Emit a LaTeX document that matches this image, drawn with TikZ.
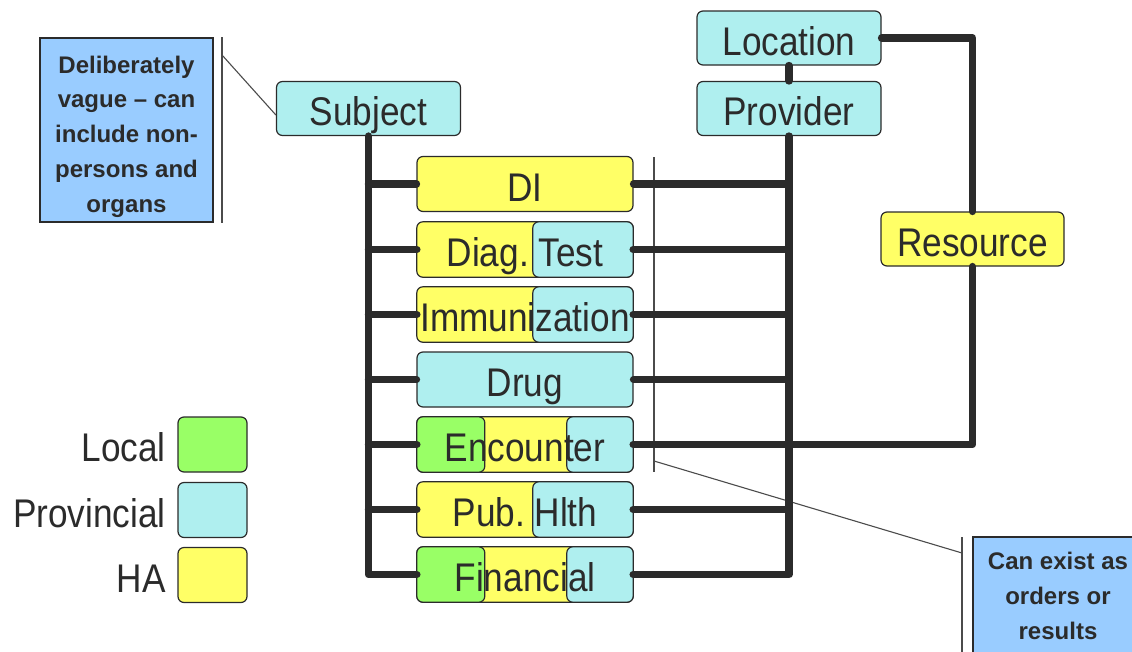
\documentclass[tikz,border=0pt]{standalone}
\usepackage{fontspec}
\setmainfont[FakeStretch=0.88]{Liberation Sans}
\newfontfamily\notefont[Ligatures=TeX]{Liberation Sans}
\pgfdeclarelayer{back}
\pgfsetlayers{back,main}

\definecolor{ha}{HTML}{FFFF66}
\definecolor{prov}{HTML}{AFEFEF}
\definecolor{local}{HTML}{99FF66}
\definecolor{note}{HTML}{99CCFF}
\definecolor{ink}{HTML}{2B2B2B}

\tikzset{
  part/.style={draw=ink, line width=1.2pt, rounded corners=6pt},
  label/.style={inner sep=0pt, text=ink, text height=34pt, text depth=0pt,
    font=\fontsize{40}{48}\selectfont},
  box/.style={label, part, minimum width=184pt, minimum height=54pt},
  rowbox/.style={label, minimum width=216pt, minimum height=55pt},
  keybox/.style={part, inner sep=0pt, minimum width=69pt, minimum height=55pt},
  notebox/.style={draw=ink, line width=1.1pt, fill=note, inner sep=0pt},
  notetext/.style={inner sep=0pt, text=ink, align=center,
    font=\notefont\bfseries\fontsize{24}{34.75}\selectfont},
  conn/.style={draw=ink, line width=7.5pt, line cap=round, line join=round},
  thinline/.style={draw=ink!85, line width=1.1pt},
}

\begin{document}
\begin{tikzpicture}[x=1pt, y=-1pt]
\useasboundingbox (0,0) rectangle (1132,651);
\clip (0,0) rectangle (1132,651);

% top-level entities
\node[box, fill=prov] (subject)  at (368.5,108.5) {Subject};
\node[box, fill=prov] (location) at (789,38)      {Location};
\node[box, fill=prov] (provider) at (789,108.5)   {Provider};
\node[box, fill=ha, minimum width=183pt] (resource) at (972.5,239) {Resource};

% activity rows
\node[rowbox, part, fill=ha]   (di)   at (525,184)   {DI};
\node[rowbox]                  (diag) at (525,249.5) {Diag.\ Test};
\node[rowbox]                  (imm)  at (525,314.5) {Immunization};
\node[rowbox, part, fill=prov] (drug) at (525,379.5) {Drug};
\node[rowbox]                  (enc)  at (525,444.5) {Encounter};
\node[rowbox]                  (pub)  at (525,509.5) {Pub.\ Hlth};
\node[rowbox]                  (fin)  at (525,574.5) {Financial};

% split-colour backgrounds of the shared rows
\begin{pgfonlayer}{back}
  \foreach \r in {diag,imm,enc,pub,fin}
    \draw[part, fill=ha] (\r.south west) rectangle (\r.north east);
  \foreach \r in {diag,imm,pub}
    \draw[part, fill=prov] ([xshift=116pt]\r.south west) rectangle (\r.north east);
  \foreach \r in {enc,fin}{
    \draw[part, fill=local] (\r.south west) rectangle ([xshift=68pt]\r.north west);
    \draw[part, fill=prov] ([xshift=150pt]\r.south west) rectangle (\r.north east);
  }
\end{pgfonlayer}

% legend
\node[keybox, fill=local] (klocal) at (212.5,444.5) {};
\node[keybox, fill=prov]  (kprov)  at (212.5,510)   {};
\node[keybox, fill=ha]    (kha)    at (212.5,575)   {};
\node[label, anchor=east] (tlocal) at (166,444.5) {Local};
\node[label, anchor=east] (tprov)  at (166,510)   {Provincial};
\node[label, anchor=east] (tha)    at (166,575)   {HA};

% notes
\node[notebox, minimum width=173pt, minimum height=184pt] (note1) at (126.5,130) {};
\node[notetext] (note1t) at (126.5,136.5) {Deliberately\\vague \textendash\ can\\include non-\\persons and\\organs};
\node[notebox, minimum width=170pt, minimum height=170pt] (note2) at (1058,622) {};
\node[notetext] (note2t) at (1058,596) {Can exist as\\orders or\\results};

% note brackets and leaders
\coordinate (b1top) at (222,37);
\coordinate (b1bot) at (222,223);
\coordinate (b1tip) at (222,55);
\coordinate (b2top) at (654,157);
\coordinate (b2bot) at (654,472);
\coordinate (b2tip) at (654,461);
\coordinate (b3top) at (962,537);
\coordinate (b3bot) at (962,660);
\coordinate (b3tip) at (962,553);
\draw[thinline] (b1top) -- (b1bot);
\draw[thinline] (b1tip) -- ([yshift=-6.5pt]subject.west);
\draw[thinline] (b2top) -- (b2bot);
\draw[thinline] (b3top) -- (b3bot);
\draw[thinline] (b2tip) -- (b3tip);

% subject spine
\draw[conn] (subject.south) |- (fin.west);
\foreach \r in {di,diag,imm,drug,enc,pub}
  \draw[conn] (subject.south |- \r.west) -- (\r.west);

% provider spine
\draw[conn] (location.south) -- (provider.north);
\draw[conn] (provider.south) |- (fin.east);
\foreach \r in {di,diag,imm,drug,pub}
  \draw[conn] (\r.east) -- (provider.south |- \r.east);

% location / resource / encounter
\draw[conn] (location.east) -| (resource.north);
\draw[conn] (resource.south) |- (enc.east);
\end{tikzpicture}
\end{document}
